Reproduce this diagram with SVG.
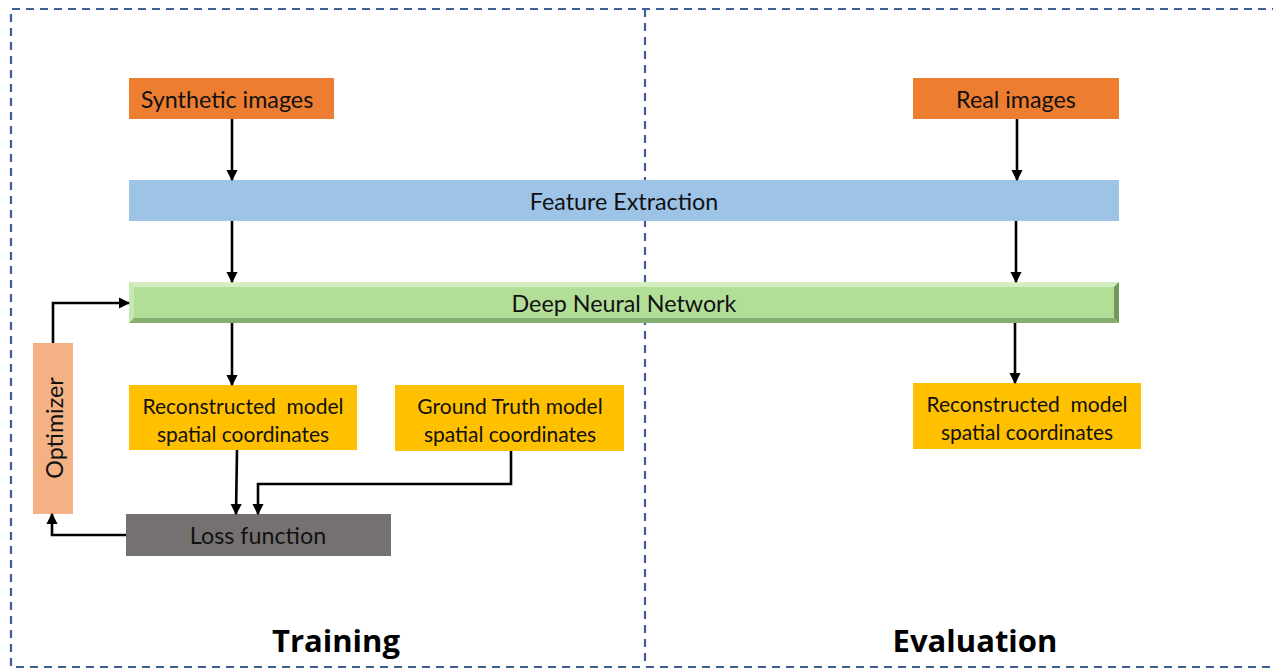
<svg xmlns="http://www.w3.org/2000/svg" width="1273" height="668" viewBox="0 0 1273 668">
  <style>
    .lbl { font-family: Lato, "Noto Sans", "Liberation Sans", sans-serif; font-size: 23.3px; fill: #111; text-anchor: middle; dominant-baseline: central; }
    .sm { font-size: 21px; }
    .title { font-family: "Open Sans", Lato, "Liberation Sans", sans-serif; font-size: 31px; font-weight: bold; fill: #000; text-anchor: middle; }
    .frame { fill: none; stroke: #3F5E99; stroke-width: 2.2; stroke-dasharray: 8 6; }
    .conn { fill: none; stroke: #000; stroke-width: 2.6; marker-end: url(#arr); }
  </style>
  <defs>
    <marker id="arr" viewBox="0 0 10 10" refX="9" refY="5" markerWidth="4.4" markerHeight="4.4" orient="auto" markerUnits="strokeWidth">
      <path d="M0,0 L10,5 L0,10 z" fill="#000"/>
    </marker>
  </defs>

  <rect width="1273" height="668" fill="#fff"/>

  <!-- dashed frame and section divider -->
  <g id="frame">
    <path class="frame" d="M1280,9 L11,9 L11,667 L1280,667"/>
    <line class="frame" x1="645" y1="9" x2="645" y2="667"/>
  </g>

  <g id="synthetic-images">
    <rect x="129" y="78" width="205" height="41" fill="#ED7D31"/>
    <text class="lbl" x="227" y="99">Synthetic images</text>
  </g>

  <g id="real-images">
    <rect x="913" y="78" width="206" height="41" fill="#ED7D31"/>
    <text class="lbl" x="1016" y="99">Real images</text>
  </g>

  <g id="feature-extraction">
    <rect x="129" y="180" width="990" height="41" fill="#9DC3E6"/>
    <text class="lbl" x="624" y="201">Feature Extraction</text>
  </g>

  <g id="deep-neural-network">
    <rect x="129" y="282" width="990" height="41" fill="#B3DE98"/>
    <polygon points="129,282 1119,282 1114,287 134,287" fill="#D3EEC1"/>
    <polygon points="129,282 134,287 134,318 129,323" fill="#C8E7B2"/>
    <polygon points="129,323 134,318 1114,318 1119,323" fill="#86AE70"/>
    <polygon points="1119,282 1119,323 1114,318 1114,287" fill="#6F9A5B"/>
    <text class="lbl" x="624" y="303">Deep Neural Network</text>
  </g>

  <g id="recon-train">
    <rect x="129" y="385" width="228" height="65" fill="#FFC000"/>
    <text class="lbl sm" x="243" y="405" xml:space="preserve">Reconstructed  model</text>
    <text class="lbl sm" x="243" y="433">spatial coordinates</text>
  </g>

  <g id="ground-truth">
    <rect x="395" y="385" width="229" height="66" fill="#FFC000"/>
    <text class="lbl sm" x="510" y="405">Ground Truth model</text>
    <text class="lbl sm" x="510" y="433">spatial coordinates</text>
  </g>

  <g id="recon-eval">
    <rect x="913" y="383" width="228" height="66" fill="#FFC000"/>
    <text class="lbl sm" x="1027" y="403" xml:space="preserve">Reconstructed  model</text>
    <text class="lbl sm" x="1027" y="431">spatial coordinates</text>
  </g>

  <g id="optimizer">
    <rect x="33" y="343" width="40" height="171" fill="#F4B183"/>
    <text class="lbl" transform="translate(54,428) rotate(-90)" x="0" y="0">Optimizer</text>
  </g>

  <g id="loss-function">
    <rect x="126" y="514" width="265" height="42" fill="#767171"/>
    <text class="lbl" x="258" y="535">Loss function</text>
  </g>

  <g id="connectors">
    <line class="conn" x1="232" y1="119" x2="232" y2="180"/>
    <line class="conn" x1="1017" y1="119" x2="1017" y2="180"/>
    <line class="conn" x1="232" y1="221" x2="232" y2="282"/>
    <line class="conn" x1="1016" y1="221" x2="1016" y2="282"/>
    <line class="conn" x1="232" y1="323" x2="232" y2="385"/>
    <line class="conn" x1="1015" y1="323" x2="1015" y2="383"/>
    <line class="conn" x1="237" y1="450" x2="236" y2="514"/>
    <path class="conn" d="M511,451 L511,484 L258,484 L258,514"/>
    <path class="conn" d="M126,535 L52,535 L52,514"/>
    <path class="conn" d="M53,343 L53,303 L129,303"/>
  </g>

  <g id="section-titles">
    <text class="title" x="336" y="652">Training</text>
    <text class="title" x="975" y="652">Evaluation</text>
  </g>
</svg>
